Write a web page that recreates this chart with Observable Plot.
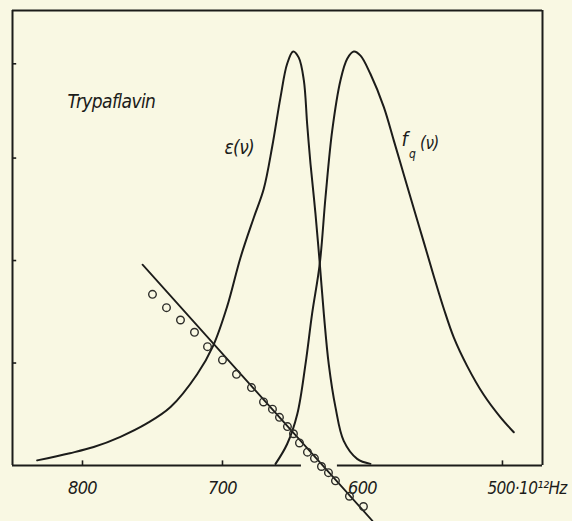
<!DOCTYPE html>
<html>
<head>
<meta charset="utf-8">
<script src="https://cdn.jsdelivr.net/npm/d3@7"></script>
<script src="https://cdn.jsdelivr.net/npm/@observablehq/plot@0.6"></script>
<style>
  html, body { margin: 0; padding: 0; background: #f9f8e3; }
  #chart svg { display: block; }
</style>
</head>
<body>
<div id="chart"></div>
<script>
// Absorption spectrum ε(ν) of trypaflavin (frequency in 10^12 Hz, arbitrary units)
const epsNu  = [832.4, 809, 792, 772.9, 754, 737.1, 718.1, 706.6, 696.7, 687.1, 677.6, 670.5, 664.5, 658.6, 653.8, 649.5, 645.5, 641.9, 639.5, 637.1, 633.6, 630.5, 627.6, 624.1, 619.3, 613.4, 603.8, 594.3];
const epsVal = [0.05, 0.12, 0.18, 0.28, 0.41, 0.57, 0.89, 1.17, 1.55, 2.03, 2.42, 2.70, 3.11, 3.59, 3.92, 4.04, 3.98, 3.76, 3.33, 2.94, 2.46, 1.97, 1.48, 0.99, 0.57, 0.24, 0.065, 0.016];

// Fluorescence spectrum f_q(ν)
const fqNu  = [662.1, 653.8, 646.6, 640.7, 636, 630.5, 626.4, 621.6, 615.7, 610.9, 606.2, 601.4, 594.3, 584.8, 577.6, 570.5, 563.4, 556.2, 549.1, 541.9, 534.8, 525.2, 513.4, 501.4, 491.9];
const fqVal = [0.016, 0.21, 0.50, 0.99, 1.48, 1.97, 2.62, 3.27, 3.76, 3.97, 4.04, 4.00, 3.82, 3.50, 3.17, 2.84, 2.51, 2.18, 1.85, 1.53, 1.25, 0.97, 0.69, 0.47, 0.325];

// Measured points (open circles) and the straight fitted line
const ptNu  = [750, 740, 730, 720, 710.7, 700, 690, 679.3, 670.7, 664.3, 659.3, 653.6, 649.3, 645, 639.3, 634.3, 629.3, 624.3, 619.3, 609.3, 599.3];
const ptVal = [1.67, 1.54, 1.42, 1.30, 1.16, 1.03, 0.89, 0.76, 0.62, 0.55, 0.47, 0.38, 0.31, 0.22, 0.13, 0.07, -0.01, -0.07, -0.15, -0.30, -0.40];
const fitNu  = [757.1, 592.9];
const fitVal = [1.96, -0.54];

// Axes
const xDomain = [850, 471.4];
const yMax = 4.44;
const xTicks = [800, 700, 500];
const xLabels = [800, 700, 600];
const yTicks = [1, 2, 3, 3.92];
// baseline drawn in two pieces, broken where the fitted line crosses
const baseFrom = [850, 617.9];
const baseTo   = [643.6, 471.4];

const ink = "#1c1c1a";
const font = "'Liberation Sans Narrow', 'DejaVu Sans Condensed', 'Liberation Sans', sans-serif";

const eps = epsNu.map((nu, i) => ({nu, v: epsVal[i]}));
const fq = fqNu.map((nu, i) => ({nu, v: fqVal[i]}));
const pts = ptNu.map((nu, i) => ({nu, v: ptVal[i]}));
const fit = fitNu.map((nu, i) => ({nu, v: fitVal[i]}));
const base = baseFrom.map((a, i) => ({a, b: baseTo[i]}));

const chart = Plot.plot({
  width: 572,
  height: 521,
  marginLeft: 12,
  marginRight: 30,
  marginTop: 10,
  marginBottom: 56,
  style: {background: "#f9f8e3", fontFamily: font, letterSpacing: "-0.6px"},
  x: {domain: xDomain, axis: null},
  y: {domain: [0, yMax], axis: null},
  marks: [
    // frame: left, right, top
    Plot.ruleX([xDomain[0], xDomain[1]], {y1: 0, y2: yMax, stroke: ink, strokeWidth: 2}),
    Plot.ruleY([yMax], {x1: xDomain[0], x2: xDomain[1], stroke: ink, strokeWidth: 2}),
    // baseline
    Plot.ruleY(base, {y: () => 0, x1: "a", x2: "b", stroke: ink, strokeWidth: 2.2}),
    // inward ticks
    Plot.ruleX(xTicks, {y1: 0, y2: 0.045, stroke: ink, strokeWidth: 1.6}),
    Plot.ruleY(yTicks, {x1: xDomain[0], x2: xDomain[0] - 3, stroke: ink, strokeWidth: 1.6}),
    // tick labels
    Plot.text(xLabels, {x: d => d, y: () => 0, dy: 23, text: d => String(d), fontSize: 18, fontStyle: "italic", fill: ink}),
    Plot.text([500], {x: d => d, y: () => 0, dy: 23, dx: -15, text: () => "500·10¹²Hz", textAnchor: "start", fontSize: 17, fontStyle: "italic", fill: ink}),
    // spectra
    Plot.line(eps, {x: "nu", y: "v", curve: "catmull-rom", stroke: ink, strokeWidth: 2}),
    Plot.line(fq, {x: "nu", y: "v", curve: "catmull-rom", stroke: ink, strokeWidth: 2}),
    // fitted line and measured points
    Plot.line(fit, {x: "nu", y: "v", stroke: ink, strokeWidth: 1.8}),
    Plot.dot(pts, {x: "nu", y: "v", r: 3.8, stroke: "#2e2e2a", strokeWidth: 1.4, fill: "none"}),
    // annotations
    Plot.text(["Trypaflavin"], {x: 810.7, y: 3.55, text: d => d, textAnchor: "start", fontSize: 19, fontStyle: "italic", fill: ink}),
    Plot.text(["ε(ν)"], {x: 688, y: 3.10, text: d => d, fontSize: 19, fontStyle: "italic", fill: ink}),
    Plot.text(["f"], {x: 570, y: 3.18, text: d => d, fontSize: 20, fontStyle: "italic", fill: ink}),
    Plot.text(["q"], {x: 564.6, y: 3.04, text: d => d, fontSize: 12, fontStyle: "italic", fill: ink}),
    Plot.text(["(ν)"], {x: 552.2, y: 3.14, text: d => d, fontSize: 17, fontStyle: "italic", fill: ink})
  ]
});
document.getElementById("chart").append(chart);
</script>
</body>
</html>
